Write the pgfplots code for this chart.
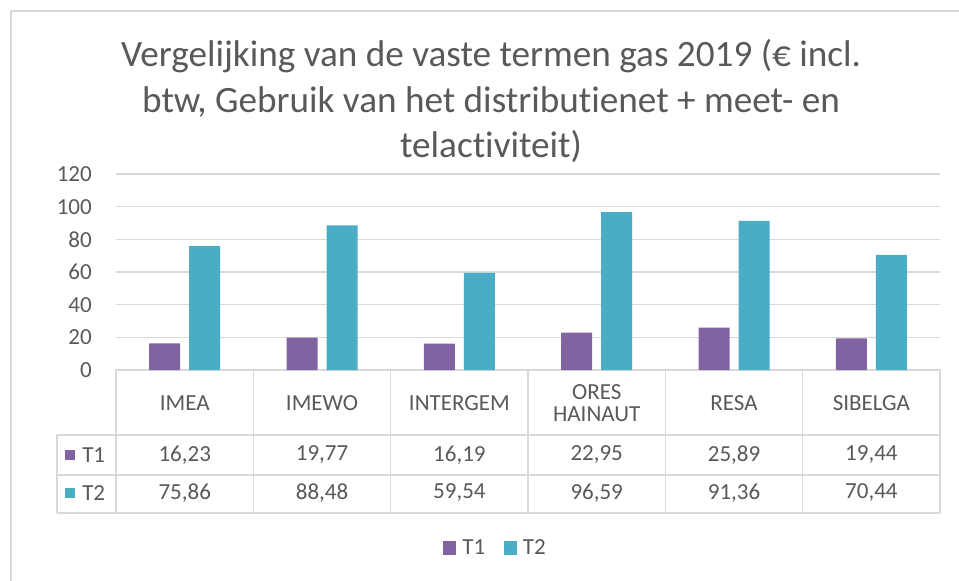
\documentclass[border=0pt]{standalone}
\usepackage{fontspec}
\setmainfont{Carlito}[Ligatures={NoCommon}]
\usepackage{pgfplots}
\pgfplotsset{compat=1.18}
\usepackage{pgfplotstable}
\definecolor{tone}{HTML}{8064A2}
\definecolor{ttwo}{HTML}{4BACC6}
\definecolor{txt}{HTML}{595959}
\definecolor{grd}{HTML}{D9D9D9}
\newcommand\tickfont{\fontsize{17.25}{20}\selectfont}
\newcommand\titlefont{\fontsize{27.9}{33}\selectfont}
\pgfkeys{/pgf/number format/assume math mode=true}

% vaste termen gas 2019, T1 en T2
\pgfplotstableread{
x T1 T2
0 16.23 75.86
1 19.77 88.48
2 16.19 59.54
3 22.95 96.59
4 25.89 91.36
5 19.44 70.44
}\gasdata

\begin{document}
\begin{tikzpicture}
\begin{scope}[x=0.75pt,y=-0.75pt]
\useasboundingbox (0,0) rectangle (959,581);
\draw[grd, line width=1.5pt] (11,11) rectangle (990,600);
\coordinate (AX) at (116,370);
% titel
\node[txt, font=\titlefont, anchor=base] at (491,66.7) {Vergelijking van de vaste termen gas 2019 (€ incl.};
\node[txt, font=\titlefont, anchor=base] at (491,112.2) {btw, Gebruik van het distributienet + meet- en};
\node[txt, font=\titlefont, anchor=base] at (491,157.7) {telactiviteit)};
% gegevenstabel
\begin{scope}[grd, line width=1.1pt]
\draw (116,370) -- (940,370);
\draw (57,435) -- (940,435);
\draw (57,475) -- (940,475);
\draw (57,513) -- (940,513);
\draw (57,435) -- (57,513);
\foreach \k in {0,...,6} \draw ({116+137.33*\k},370) -- ({116+137.33*\k},513);
\end{scope}
\foreach \k/\name in {0/IMEA,1/IMEWO,2/INTERGEM,3/{ORES\\[-3pt]HAINAUT},4/RESA,5/SIBELGA}
  \node[txt, font=\tickfont, align=center] at ({184.7+137.33*\k},403) {\name};
\foreach \k in {0,...,5} {
  \pgfplotstablegetelem{\k}{T1}\of\gasdata
  \node[txt, font=\tickfont] at ({184.7+137.33*\k},455) {\pgfmathprintnumber[fixed,fixed zerofill,precision=2,use comma]{\pgfplotsretval}};
  \pgfplotstablegetelem{\k}{T2}\of\gasdata
  \node[txt, font=\tickfont] at ({184.7+137.33*\k},493) {\pgfmathprintnumber[fixed,fixed zerofill,precision=2,use comma]{\pgfplotsretval}};
}
\fill[tone] (65,450) rectangle (75,460);
\node[txt, font=\tickfont, anchor=west, inner sep=0pt] at (82,455) {T1};
\fill[ttwo] (65,488) rectangle (75,498);
\node[txt, font=\tickfont, anchor=west, inner sep=0pt] at (82,493) {T2};
\end{scope}

\begin{axis}[
  at={(AX)}, anchor=south west,
  scale only axis, width=618pt, height=147pt,
  ymin=0, ymax=120, ytick={0,20,...,120},
  xmin=-0.5, xmax=5.5, xtick=\empty,
  axis line style={draw=none},
  major tick length=0pt,
  ymajorgrids, grid style={grd, line width=1.1pt},
  yticklabel style={txt, font=\tickfont, anchor=east, inner sep=0pt, xshift=-18pt},
  /pgf/number format/assume math mode=true,
  ybar, bar width=23.25pt,
  legend style={at={(0.461,-0.908)}, anchor=center, draw=none, fill=none,
    legend columns=-1, font=\tickfont, text=txt,
    /tikz/every odd column/.append style={column sep=2.5pt},
    /tikz/every even column/.append style={column sep=12pt}},
  legend image code/.code={\fill[#1] (0pt,-4.9pt) rectangle (9.75pt,4.9pt);},
]
\addplot[fill=tone, draw=none, bar shift=-15pt] table[x=x,y=T1]{\gasdata};
\addplot[fill=ttwo, draw=none, bar shift=15pt] table[x=x,y=T2]{\gasdata};
\legend{T1,T2}
\end{axis}
\end{tikzpicture}
\end{document}
